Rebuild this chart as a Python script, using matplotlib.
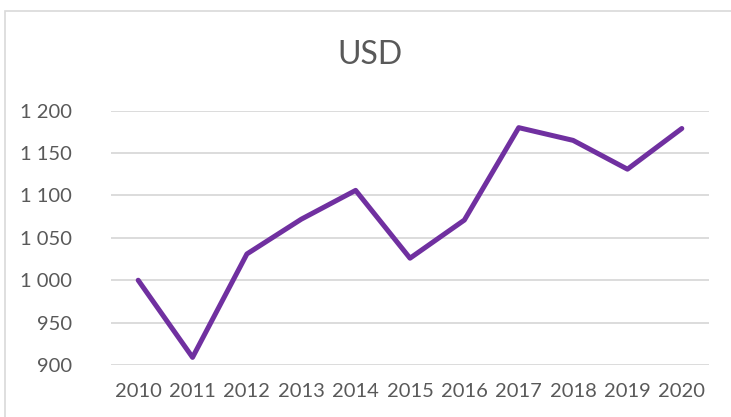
import matplotlib.pyplot as plt
from matplotlib.patches import Rectangle
from matplotlib.ticker import FuncFormatter

years = ['2010', '2011', '2012', '2013', '2014', '2015',
         '2016', '2017', '2018', '2019', '2020']
usd = [1000, 909, 1031, 1072, 1106, 1026, 1071, 1180, 1165, 1131, 1179]
y_ticks = [900, 950, 1000, 1050, 1100, 1150, 1200]

plt.rcParams['font.family'] = ['Lato', 'DejaVu Sans']
grey = '#595959'

fig = plt.figure(figsize=(7.31, 4.17), dpi=100)
fig.patches.append(Rectangle((5 / 731, -0.1), 1.2, 1 - 11 / 417 + 0.1,
                             transform=fig.transFigure, fill=False,
                             edgecolor='#D9D9D9', linewidth=1.2))

ax = fig.add_axes([111 / 731, 1 - 365 / 417, 598 / 731, 254.3 / 417])
x = list(range(len(years)))
ax.plot(x, usd, color='#7030A0', linewidth=3.6, solid_joinstyle='round',
        solid_capstyle='round', zorder=3)

ax.set_xlim(-0.5, len(years) - 0.5)
ax.set_ylim(900, 1200)
ax.set_xticks(x)
ax.set_xticklabels(years)
ax.set_yticks(y_ticks)
# thousands separated by a space, as in the source
ax.yaxis.set_major_formatter(FuncFormatter(
    lambda v, p: '{:,}'.format(int(v)).replace(',', ' ')))
ax.grid(axis='y', color='#D9D9D9', linewidth=1.3)
ax.set_axisbelow(True)
for s in ax.spines.values():
    s.set_visible(False)
ax.tick_params(length=0, labelsize=14.5, colors=grey)
ax.tick_params(axis='y', pad=28)
ax.tick_params(axis='x', pad=13)

fig.text(370 / 731, 1 - 55 / 417, 'USD', ha='center', va='center',
         fontsize=23, color=grey)

fig.savefig('out.png', dpi=100)
